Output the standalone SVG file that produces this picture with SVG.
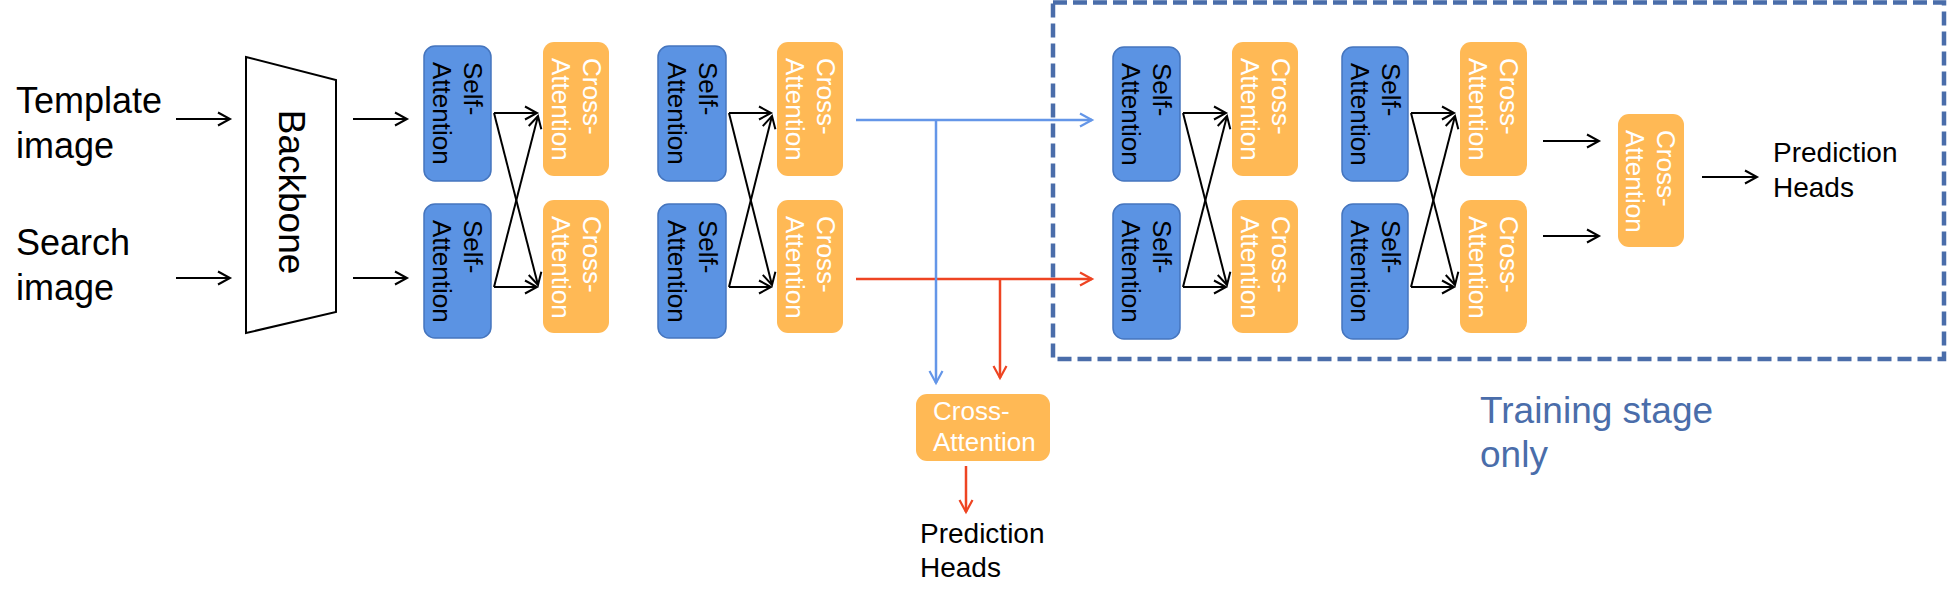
<svg xmlns="http://www.w3.org/2000/svg" width="1948" height="595" viewBox="0 0 1948 595">
<style>
text{font-family:"Liberation Sans",Arial,sans-serif;}
.lbl{font-size:36px;fill:#000;}
.ph{font-size:28px;fill:#000;}
.sa rect{fill:#5B93E3;stroke:#4575BE;stroke-width:1.5;}
.sa text{font-size:26px;fill:#000;}
.ca rect{fill:#FFB955;}
.ca text{font-size:26px;fill:#fff;}
.k{stroke:#000;stroke-width:2;fill:none;}
.b{stroke:#6496E8;stroke-width:2.5;fill:none;}
.r{stroke:#EE4422;stroke-width:2.5;fill:none;}
</style>
<defs>
<marker id="ak" markerUnits="userSpaceOnUse" markerWidth="16" markerHeight="16" refX="13" refY="8" orient="auto"><path d="M1,1.5 L13,8 L1,14.5" fill="none" stroke="#000" stroke-width="2"/></marker>
<marker id="ab" markerUnits="userSpaceOnUse" markerWidth="16" markerHeight="16" refX="13" refY="8" orient="auto"><path d="M1,1.5 L13,8 L1,14.5" fill="none" stroke="#6496E8" stroke-width="2.2"/></marker>
<marker id="ar" markerUnits="userSpaceOnUse" markerWidth="16" markerHeight="16" refX="13" refY="8" orient="auto"><path d="M1,1.5 L13,8 L1,14.5" fill="none" stroke="#EE4422" stroke-width="2.2"/></marker>
</defs>
<rect width="1948" height="595" fill="#fff"/>

<g id="training-box">
<rect x="1053" y="2.5" width="891" height="356.5" fill="none" stroke="#4A6DAA" stroke-width="4.5" stroke-dasharray="14 6"/>
<text x="1480" y="423" font-size="37" fill="#4A6DAA">Training stage</text>
<text x="1480" y="467" font-size="37" fill="#4A6DAA">only</text>
</g>

<g id="inputs">
<text class="lbl" x="16" y="113">Template</text>
<text class="lbl" x="16" y="158">image</text>
<text class="lbl" x="16" y="255">Search</text>
<text class="lbl" x="16" y="300">image</text>
</g>

<g id="backbone">
<polygon points="246,57 336,80 336,312 246,333" fill="#fff" stroke="#000" stroke-width="2"/>
<text transform="translate(279,192) rotate(90)" text-anchor="middle" font-size="37">Backbone</text>
</g>

<g id="sa1" class="sa"><rect x="424" y="46" width="67" height="135" rx="11"/><text transform="translate(464,62) rotate(90)">Self-<tspan x="0" dy="31">Attention</tspan></text></g>
<g id="sa2" class="sa"><rect x="424" y="204" width="67" height="134" rx="11"/><text transform="translate(464,220) rotate(90)">Self-<tspan x="0" dy="31">Attention</tspan></text></g>
<g id="ca1" class="ca"><rect x="543" y="42" width="66" height="134" rx="11"/><text transform="translate(583,58) rotate(90)">Cross-<tspan x="0" dy="31">Attention</tspan></text></g>
<g id="ca2" class="ca"><rect x="543" y="200" width="66" height="133" rx="11"/><text transform="translate(583,216) rotate(90)">Cross-<tspan x="0" dy="31">Attention</tspan></text></g>

<g id="sa3" class="sa"><rect x="658" y="46" width="68" height="135" rx="11"/><text transform="translate(699,62) rotate(90)">Self-<tspan x="0" dy="31">Attention</tspan></text></g>
<g id="sa4" class="sa"><rect x="658" y="204" width="68" height="134" rx="11"/><text transform="translate(699,220) rotate(90)">Self-<tspan x="0" dy="31">Attention</tspan></text></g>
<g id="ca3" class="ca"><rect x="777" y="42" width="66" height="134" rx="11"/><text transform="translate(817,58) rotate(90)">Cross-<tspan x="0" dy="31">Attention</tspan></text></g>
<g id="ca4" class="ca"><rect x="777" y="200" width="66" height="133" rx="11"/><text transform="translate(817,216) rotate(90)">Cross-<tspan x="0" dy="31">Attention</tspan></text></g>

<g id="sa5" class="sa"><rect x="1113" y="47" width="67" height="134" rx="11"/><text transform="translate(1153,63) rotate(90)">Self-<tspan x="0" dy="31">Attention</tspan></text></g>
<g id="sa6" class="sa"><rect x="1113" y="204" width="67" height="135" rx="11"/><text transform="translate(1153,220) rotate(90)">Self-<tspan x="0" dy="31">Attention</tspan></text></g>
<g id="ca5" class="ca"><rect x="1232" y="42" width="66" height="134" rx="11"/><text transform="translate(1272,58) rotate(90)">Cross-<tspan x="0" dy="31">Attention</tspan></text></g>
<g id="ca6" class="ca"><rect x="1232" y="200" width="66" height="133" rx="11"/><text transform="translate(1272,216) rotate(90)">Cross-<tspan x="0" dy="31">Attention</tspan></text></g>

<g id="sa7" class="sa"><rect x="1342" y="47" width="66" height="134" rx="11"/><text transform="translate(1382,63) rotate(90)">Self-<tspan x="0" dy="31">Attention</tspan></text></g>
<g id="sa8" class="sa"><rect x="1342" y="204" width="66" height="135" rx="11"/><text transform="translate(1382,220) rotate(90)">Self-<tspan x="0" dy="31">Attention</tspan></text></g>
<g id="ca7" class="ca"><rect x="1460" y="42" width="67" height="134" rx="11"/><text transform="translate(1500,58) rotate(90)">Cross-<tspan x="0" dy="31">Attention</tspan></text></g>
<g id="ca8" class="ca"><rect x="1460" y="200" width="67" height="133" rx="11"/><text transform="translate(1500,216) rotate(90)">Cross-<tspan x="0" dy="31">Attention</tspan></text></g>

<g id="ca-final" class="ca"><rect x="1618" y="114" width="66" height="133" rx="11"/><text transform="translate(1657,130) rotate(90)">Cross-<tspan x="0" dy="31">Attention</tspan></text></g>
<g id="heads-train"><text class="ph" x="1773" y="162">Prediction</text><text class="ph" x="1773" y="197">Heads</text></g>

<g id="ca-infer" class="ca"><rect x="916" y="394" width="134" height="67" rx="11"/><text x="933" y="420">Cross-</text><text x="933" y="451">Attention</text></g>
<g id="heads-infer"><text class="ph" x="920" y="543">Prediction</text><text class="ph" x="920" y="577">Heads</text></g>

<g id="connectors">
<path class="k" marker-end="url(#ak)" d="M176,119 H230"/>
<path class="k" marker-end="url(#ak)" d="M176,278 H230"/>
<path class="k" marker-end="url(#ak)" d="M353,119 H407"/>
<path class="k" marker-end="url(#ak)" d="M353,278 H407"/>

<path class="k" marker-end="url(#ak)" d="M494,113 H537"/>
<path class="k" marker-end="url(#ak)" d="M494,113 L538,285"/>
<path class="k" marker-end="url(#ak)" d="M494,287 H537"/>
<path class="k" marker-end="url(#ak)" d="M494,287 L538,116"/>

<path class="k" marker-end="url(#ak)" d="M729,113 H771"/>
<path class="k" marker-end="url(#ak)" d="M729,113 L772,285"/>
<path class="k" marker-end="url(#ak)" d="M729,287 H771"/>
<path class="k" marker-end="url(#ak)" d="M729,287 L772,116"/>

<path class="k" marker-end="url(#ak)" d="M1183,113 H1226"/>
<path class="k" marker-end="url(#ak)" d="M1183,113 L1227,285"/>
<path class="k" marker-end="url(#ak)" d="M1183,287 H1226"/>
<path class="k" marker-end="url(#ak)" d="M1183,287 L1227,116"/>

<path class="k" marker-end="url(#ak)" d="M1411,113 H1454"/>
<path class="k" marker-end="url(#ak)" d="M1411,113 L1455,285"/>
<path class="k" marker-end="url(#ak)" d="M1411,287 H1454"/>
<path class="k" marker-end="url(#ak)" d="M1411,287 L1455,116"/>

<path class="k" marker-end="url(#ak)" d="M1543,141 H1599"/>
<path class="k" marker-end="url(#ak)" d="M1543,236 H1599"/>
<path class="k" marker-end="url(#ak)" d="M1702,177 H1757"/>

<path class="r" marker-end="url(#ar)" d="M856,279 H1092"/>
<path class="r" marker-end="url(#ar)" d="M1000,279 V378"/>
<path class="b" marker-end="url(#ab)" d="M856,120 H1092"/>
<path class="b" marker-end="url(#ab)" d="M936,120 V383"/>
<path class="r" marker-end="url(#ar)" d="M966,466 V512"/>
</g>
</svg>
